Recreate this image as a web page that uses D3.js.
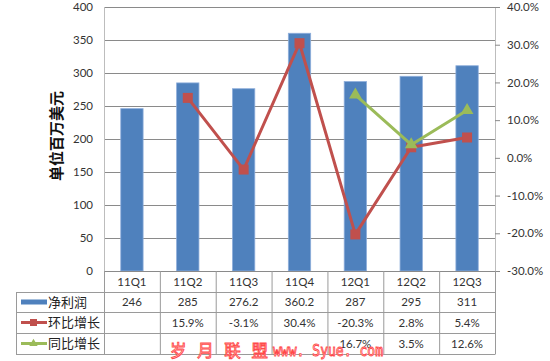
<!DOCTYPE html>
<html><head><meta charset="utf-8">
<script src="https://cdn.jsdelivr.net/npm/d3@7"></script>
<style>
html,body{margin:0;padding:0;background:#fff;}
svg{display:block;}
text{font-family:Lato,"Noto Sans CJK SC",sans-serif;}
</style></head>
<body><svg id="c" width="550" height="361"></svg>
<script>
const categories = ["11Q1","11Q2","11Q3","11Q4","12Q1","12Q2","12Q3"];
const netProfit = [246, 285, 276.2, 360.2, 287, 295, 311];
const qoqGrowth = [null, 15.9, -3.1, 30.4, -20.3, 2.8, 5.4];
const yoyGrowth = [null, null, null, null, 16.7, 3.5, 12.6];
const leftTicks = [0,50,100,150,200,250,300,350,400];
const rightTicks = [-30,-20,-10,0,10,20,30,40];
const seriesNames = ["净利润","环比增长","同比增长"];
const yTitle = "单位百万美元";

const svg = d3.select("#c");
const L = 104, R = 495, T = 7, B = 271;
const tableLeft = 16, rowY = [271, 292, 312, 333, 354];
const blue = "#4F81BD", red = "#C0504D", green = "#9BBB59";

const x = d3.scaleBand().domain(categories).range([L, R]).padding(0);
const y = d3.scaleLinear().domain([0, 400]).range([B, T]);
const y2 = d3.scaleLinear().domain([-30, 40]).range([B, T]);

// gridlines
svg.append("g").selectAll("line").data(leftTicks.filter(d => d > 0)).join("line")
  .attr("x1", L).attr("x2", R).attr("y1", d => y(d) + 0.5).attr("y2", d => y(d) + 0.5)
  .attr("stroke", "#8a8a8a").attr("stroke-width", 1);

// left axis
const ga = svg.append("g").attr("transform", `translate(${L},0)`)
  .call(d3.axisLeft(y).tickValues(leftTicks).tickSize(0).tickPadding(11));
ga.select(".domain").attr("stroke", "#bdbdbd").attr("d", `M0.5,${T}V${B}`);
ga.selectAll("text").attr("font-size", 11.5).attr("fill", "#333").style("font-family", "Lato");

// right axis
const gr = svg.append("g").attr("transform", `translate(${R},0)`)
  .call(d3.axisRight(y2).tickValues(rightTicks).tickSize(5).tickPadding(7).tickFormat(d => d.toFixed(1) + "%"));
gr.select(".domain").attr("stroke", "#bdbdbd").attr("d", `M0.5,${T}V${B}`);
gr.selectAll(".tick line").attr("stroke", "#8a8a8a");
gr.selectAll("text").attr("font-size", 11.5).attr("fill", "#333").style("font-family", "Lato");

// y title
svg.append("text").attr("transform", `translate(62,136) rotate(-90)`)
  .attr("text-anchor", "middle").attr("font-size", 15).attr("font-weight", "bold")
  .style("font-family", "'Noto Sans CJK SC'").attr("fill", "#111").text(yTitle);

// bars
const bw = x.bandwidth() * 0.4;
svg.append("g").selectAll("rect").data(netProfit).join("rect")
  .attr("x", (d, i) => x(categories[i]) + (x.bandwidth() - bw) / 2)
  .attr("y", d => y(d)).attr("width", bw).attr("height", d => B - y(d))
  .attr("fill", blue).attr("stroke", "#8eaedb").attr("stroke-width", 0.8);

// table lines
const tg = svg.append("g").attr("stroke", "#9a9a9a").attr("stroke-width", 1);
tg.append("line").attr("x1", L).attr("x2", R).attr("y1", B + 0.5).attr("y2", B + 0.5).attr("stroke", "#8a8a8a");
rowY.slice(1).forEach(yy => tg.append("line").attr("x1", tableLeft).attr("x2", R).attr("y1", yy + 0.5).attr("y2", yy + 0.5));
tg.append("line").attr("x1", tableLeft + 0.5).attr("x2", tableLeft + 0.5).attr("y1", rowY[1]).attr("y2", rowY[4] + 0.5);
categories.forEach(c => {
  const xx = x(c);
  tg.append("line").attr("x1", xx + 0.5).attr("x2", xx + 0.5).attr("y1", B).attr("y2", rowY[4] + 0.5);
});
tg.append("line").attr("x1", R + 0.5).attr("x2", R + 0.5).attr("y1", B).attr("y2", rowY[4] + 0.5);

// table text
const cx = c => x(c) + x.bandwidth() / 2;
const rowMid = i => (rowY[i] + rowY[i + 1]) / 2;
const tt = svg.append("g").attr("font-size", 11.5).attr("fill", "#333").attr("text-anchor", "middle").style("font-family", "Lato");
categories.forEach((c, i) => {
  tt.append("text").attr("x", cx(c)).attr("y", rowMid(0)).attr("dy", "0.35em").text(c);
  tt.append("text").attr("x", cx(c)).attr("y", rowMid(1)).attr("dy", "0.35em").text(netProfit[i]);
  if (qoqGrowth[i] != null) tt.append("text").attr("x", cx(c)).attr("y", rowMid(2)).attr("dy", "0.35em").text(qoqGrowth[i].toFixed(1) + "%");
  if (yoyGrowth[i] != null) tt.append("text").attr("x", cx(c)).attr("y", rowMid(3)).attr("dy", "0.35em").text(yoyGrowth[i].toFixed(1) + "%");
});

// legend inside table
const lg = svg.append("g");
lg.append("rect").attr("x", 21).attr("y", rowMid(1) - 2.5).attr("width", 26).attr("height", 5).attr("fill", blue);
lg.append("line").attr("x1", 21).attr("x2", 47).attr("y1", rowMid(2)).attr("y2", rowMid(2)).attr("stroke", red).attr("stroke-width", 3);
lg.append("rect").attr("x", 30).attr("y", rowMid(2) - 3.5).attr("width", 7).attr("height", 7).attr("fill", red);
lg.append("line").attr("x1", 21).attr("x2", 47).attr("y1", rowMid(3)).attr("y2", rowMid(3)).attr("stroke", green).attr("stroke-width", 3);
lg.append("path").attr("d", d3.symbol(d3.symbolTriangle, 30)()).attr("transform", `translate(33.5,${rowMid(3)})`).attr("fill", green);
seriesNames.forEach((n, i) => {
  lg.append("text").attr("x", 48).attr("y", rowMid(i + 1)).attr("dy", "0.36em").attr("font-size", 13)
    .style("font-family", "'Noto Sans CJK SC'").attr("fill", "#222").text(n);
});

// lines
function drawLine(vals, color, marker) {
  const pts = vals.map((v, i) => v == null ? null : [cx(categories[i]), y2(v)]).filter(p => p);
  svg.append("path").attr("d", d3.line()(pts)).attr("fill", "none").attr("stroke", color).attr("stroke-width", 3).attr("stroke-linejoin", "round");
  const g = svg.append("g");
  pts.forEach(p => {
    if (marker === "square") g.append("rect").attr("x", p[0] - 5).attr("y", p[1] - 5).attr("width", 10).attr("height", 10).attr("fill", color);
    else g.append("path").attr("d", d3.symbol(d3.symbolTriangle, 70)()).attr("transform", `translate(${p[0]},${p[1]})`).attr("fill", color);
  });
}
drawLine(qoqGrowth, red, "square");
drawLine(yoyGrowth, green, "triangle");

// watermark
const wm = svg.append("g").attr("fill", "#fff").attr("stroke", "#ff4a4a").attr("stroke-width", 0.9);
wm.append("text").attr("x", 170).attr("y", 356.5).attr("font-size", 16.5).attr("textLength", 98).attr("lengthAdjust", "spacing")
  .style("font-family", "'Noto Sans CJK SC'").text("岁 月 联 盟");
wm.append("text").attr("x", 273).attr("y", 356).attr("textLength", 110).attr("lengthAdjust", "spacingAndGlyphs")
  .style("font-family", "'DejaVu Sans Mono'").attr("font-size", 15).text("www. Syue. com");
</script></body></html>
